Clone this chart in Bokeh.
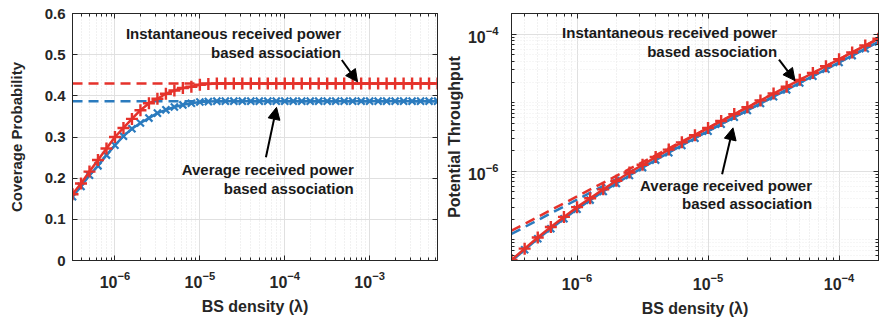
from bokeh.plotting import figure
from bokeh.layouts import row
from bokeh.models import (FixedTicker, Label, Arrow, NormalHead, LogAxis, LinearAxis,
                          Range1d, CustomJSTickFormatter)
from bokeh.embed import file_html
from bokeh.resources import INLINE

# ---------------- data ----------------
# log10 of BS density samples
lam_exp_cov = [-6.5, -6.4, -6.3, -6.2, -6.1, -6.0, -5.9, -5.8, -5.7, -5.6, -5.5,
               -5.4, -5.3, -5.2, -5.1, -5.0, -4.9, -4.8, -4.7, -4.6, -4.5, -4.4,
               -4.3, -4.2, -4.1, -4.0, -3.9, -3.8, -3.7, -3.6, -3.5, -3.4, -3.3,
               -3.2, -3.1, -3.0, -2.9, -2.8, -2.7, -2.6, -2.5, -2.4, -2.3, -2.2]
cov_inst = [0.161, 0.187, 0.216, 0.244, 0.272, 0.300, 0.322, 0.344, 0.365, 0.382,
            0.393, 0.405, 0.413, 0.419, 0.422, 0.427, 0.429, 0.430, 0.430, 0.430,
            0.430, 0.430, 0.430, 0.430, 0.430, 0.430, 0.430, 0.430, 0.430, 0.430,
            0.430, 0.430, 0.430, 0.430, 0.430, 0.430, 0.430, 0.430, 0.430, 0.430,
            0.430, 0.430, 0.430, 0.430]
cov_avg = [0.155, 0.180, 0.207, 0.230, 0.256, 0.280, 0.302, 0.320, 0.334, 0.346,
           0.358, 0.366, 0.373, 0.378, 0.382, 0.385, 0.386, 0.387, 0.387, 0.387,
           0.387, 0.387, 0.387, 0.387, 0.387, 0.387, 0.387, 0.387, 0.387, 0.387,
           0.387, 0.387, 0.387, 0.387, 0.387, 0.387, 0.387, 0.387, 0.387, 0.387,
           0.387, 0.387, 0.387, 0.387]
cov_inst_limit = 0.430
cov_avg_limit = 0.387

lam_exp_thr = [-6.5, -6.4, -6.3, -6.2, -6.1, -6.0, -5.9, -5.8, -5.7, -5.6, -5.5,
               -5.4, -5.3, -5.2, -5.1, -5.0, -4.9, -4.8, -4.7, -4.6, -4.5, -4.4,
               -4.3, -4.2, -4.1, -4.0, -3.9, -3.8, -3.7]
thr_inst = [5.09e-8, 7.44e-8, 1.083e-7, 1.540e-7, 2.161e-7, 3.00e-7, 4.05e-7,
            5.45e-7, 7.28e-7, 9.60e-7, 1.243e-6, 1.612e-6, 2.070e-6, 2.644e-6,
            3.352e-6, 4.27e-6, 5.40e-6, 6.82e-6, 8.58e-6, 1.080e-5, 1.360e-5,
            1.712e-5, 2.155e-5, 2.713e-5, 3.416e-5, 4.30e-5, 5.41e-5, 6.82e-5,
            8.58e-5]
thr_avg = [4.90e-8, 7.17e-8, 1.037e-7, 1.451e-7, 2.033e-7, 2.80e-7, 3.80e-7,
           5.07e-7, 6.66e-7, 8.69e-7, 1.132e-6, 1.457e-6, 1.869e-6, 2.385e-6,
           3.034e-6, 3.85e-6, 4.86e-6, 6.13e-6, 7.72e-6, 9.72e-6, 1.224e-5,
           1.541e-5, 1.940e-5, 2.442e-5, 3.074e-5, 3.87e-5, 4.87e-5, 6.13e-5,
           7.72e-5]
# dense-network asymptotes (dashed)
thr_lim_lam = [3.16e-7, 2.0e-4]
thr_inst_lim = [1.36e-7, 8.6e-5]
thr_avg_lim = [1.22e-7, 7.74e-5]

x_ticks_left = [1e-6, 1e-5, 1e-4, 1e-3]
x_ticks_right = [1e-6, 1e-5, 1e-4]
y_ticks_left = [0, 0.1, 0.2, 0.3, 0.4, 0.5, 0.6]
y_ticks_right = [1e-6, 1e-4]

label_inst = ["Instantaneous received power", "based association"]
label_avg = ["Average received power", "based association"]

# ---------------- styling ----------------
RED = "#E5322B"
BLUE = "#2B7BBE"
DARK = "#262626"
FONT = "Liberation Sans"

lam_cov = [10 ** e for e in lam_exp_cov]
lam_thr = [10 ** e for e in lam_exp_thr]


def log_minor(lo, hi):
    out = []
    for d in range(lo, hi + 1):
        for m in range(1, 10):
            out.append(m * 10.0 ** d)
    return out


def style_axis(ax, label_size="15px"):
    ax.axis_line_color = DARK
    ax.axis_line_width = 1
    ax.major_tick_line_color = DARK
    ax.minor_tick_line_color = DARK
    ax.major_tick_in = 5
    ax.major_tick_out = 0
    ax.minor_tick_in = 3
    ax.minor_tick_out = 0
    ax.major_label_text_font = FONT
    ax.major_label_text_font_style = "bold"
    ax.major_label_text_font_size = label_size
    ax.major_label_text_color = DARK
    ax.axis_label_text_font = FONT
    ax.axis_label_text_font_style = "bold"
    ax.axis_label_text_font_size = "16px"
    ax.axis_label_text_color = DARK


def mirror(p, where, ticker, log):
    cls = LogAxis if log else LinearAxis
    ax = cls(ticker=ticker, formatter=CustomJSTickFormatter(code="return ''"))
    style_axis(ax, label_size="0px")
    ax.major_label_standoff = 0
    p.add_layout(ax, where)
    return ax


def grids(p):
    for g in (p.xgrid[0], p.ygrid[0]):
        g.grid_line_color = "#e0e0e0"
        g.grid_line_width = 1
    p.xgrid[0].minor_grid_line_color = "#e2e2e2"
    p.xgrid[0].minor_grid_line_dash = "1 2"


def add_text(p, x, y1, y2, lines):
    for y, t in zip((y1, y2), lines):
        p.add_layout(Label(x=x, y=y, text=t, text_align="right", text_baseline="middle",
                           text_font=FONT, text_font_style="bold", text_font_size="15px",
                           text_color="#1a1a1a"))


def add_arrow(p, xs, ys, xe, ye):
    p.add_layout(Arrow(end=NormalHead(size=12, fill_color="black", line_color="black", line_width=1),
                       x_start=xs, y_start=ys, x_end=xe, y_end=ye,
                       line_color="black", line_width=2))


# ---------------- left: coverage probability ----------------
p1 = figure(width=440, height=321, x_axis_type="log",
            x_range=Range1d(3.16e-7, 6.3e-3), y_range=Range1d(0, 0.6),
            output_backend="svg", toolbar_location=None,
            min_border_left=72, min_border_right=3, min_border_top=13, min_border_bottom=59)
xt1 = FixedTicker(ticks=x_ticks_left, minor_ticks=log_minor(-7, -3))
yt1 = FixedTicker(ticks=y_ticks_left, minor_ticks=[])
p1.xaxis.ticker = xt1
p1.yaxis.ticker = yt1
p1.xaxis.axis_label = "BS density (λ)"
p1.yaxis.axis_label = "Coverage Probability"
for ax in p1.axis:
    style_axis(ax)
p1.yaxis.axis_label_text_font_size = "15px"
p1.xaxis.major_label_text_font_size = "16px"
p1.xaxis.major_label_standoff = 10
p1.xaxis.axis_label_standoff = 7
p1.yaxis.major_label_standoff = 7
p1.yaxis.axis_label_standoff = 17
mirror(p1, "above", xt1, True)
mirror(p1, "right", yt1, False)
grids(p1)
p1.outline_line_color = DARK

p1.line([lam_cov[0], lam_cov[-1]], [cov_inst_limit, cov_inst_limit], line_color=RED,
        line_width=2.5, line_dash="10 6")
p1.line([lam_cov[0], lam_cov[-1]], [cov_avg_limit, cov_avg_limit], line_color=BLUE,
        line_width=2.5, line_dash="10 6")
p1.line(lam_cov, cov_avg, line_color=BLUE, line_width=2.5)
p1.scatter(lam_cov, cov_avg, marker="x", size=10, line_color=BLUE, line_width=2.2)
p1.line(lam_cov, cov_inst, line_color=RED, line_width=2.5)
p1.scatter(lam_cov, cov_inst, marker="cross", size=12, line_color=RED, line_width=2.4)

add_text(p1, 4.6e-4, 0.552, 0.506, label_inst)
add_arrow(p1, 4.7e-4, 0.487, 7.2e-4, 0.434)
add_text(p1, 6.5e-4, 0.222, 0.176, label_avg)
add_arrow(p1, 6.0e-5, 0.251, 8.0e-5, 0.372)

# ---------------- right: potential throughput ----------------
p2 = figure(width=445, height=321, x_axis_type="log", y_axis_type="log",
            x_range=Range1d(3.16e-7, 2.0e-4), y_range=Range1d(5.0e-8, 2.0e-4),
            output_backend="svg", toolbar_location=None,
            min_border_left=71, min_border_right=7, min_border_top=8, min_border_bottom=61)
xt2 = FixedTicker(ticks=x_ticks_right, minor_ticks=log_minor(-7, -4))
yt2 = FixedTicker(ticks=y_ticks_right, minor_ticks=log_minor(-8, -4))
p2.xaxis.ticker = xt2
p2.yaxis.ticker = yt2
p2.xaxis.axis_label = "BS density (λ)"
p2.yaxis.axis_label = "Potential Throughput"
for ax in p2.axis:
    style_axis(ax)
p2.xaxis.major_label_text_font_size = "16px"
p2.yaxis.major_label_text_font_size = "16px"
p2.xaxis.major_label_standoff = 12
p2.xaxis.axis_label_standoff = 7
p2.yaxis.major_label_standoff = 13
p2.yaxis.axis_label_standoff = 2
mirror(p2, "above", xt2, True)
mirror(p2, "right", yt2, True)
grids(p2)
p2.ygrid[0].minor_grid_line_color = "#ececec"
p2.ygrid[0].minor_grid_line_dash = "1 2"
p2.outline_line_color = DARK

p2.line(thr_lim_lam, thr_inst_lim, line_color=RED, line_width=2.5, line_dash="10 6")
p2.line(thr_lim_lam, thr_avg_lim, line_color=BLUE, line_width=2.5, line_dash="10 6")
p2.line(lam_thr, thr_avg, line_color=BLUE, line_width=2.5)
p2.scatter(lam_thr, thr_avg, marker="x", size=10, line_color=BLUE, line_width=2.2)
p2.line(lam_thr, thr_inst, line_color=RED, line_width=2.5)
p2.scatter(lam_thr, thr_inst, marker="cross", size=12, line_color=RED, line_width=2.4)

add_text(p2, 3.37e-5, 1.07e-4, 5.53e-5, label_inst)
add_arrow(p2, 3.48e-5, 4.25e-5, 4.61e-5, 2.1e-5)
add_text(p2, 6.22e-5, 6.3e-7, 3.38e-7, label_avg)
add_arrow(p2, 1.28e-5, 9.06e-7, 1.55e-5, 4.3e-6)

layout = row(p1, p2, spacing=0)
open("out.html", "w").write(file_html(layout, INLINE))
